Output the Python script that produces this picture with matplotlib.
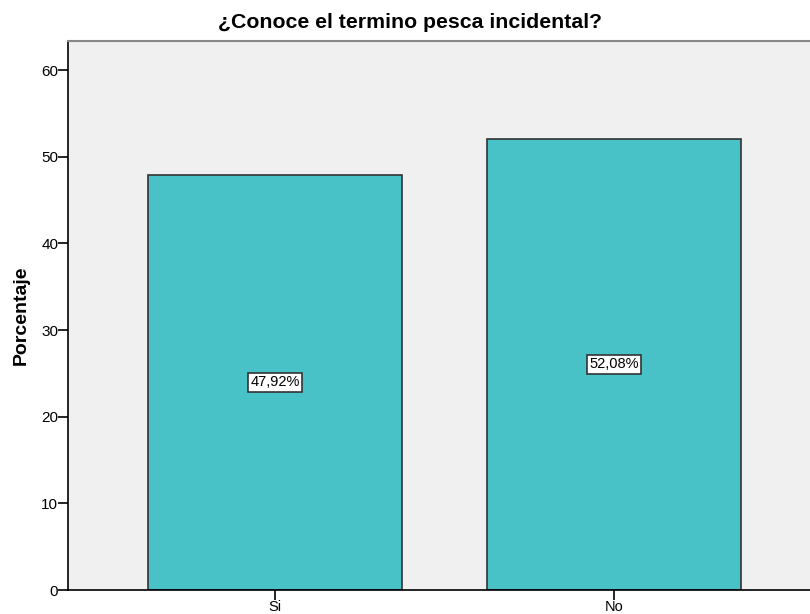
import matplotlib.pyplot as plt

categories = ["Si", "No"]
porcentaje = [47.92, 52.08]
etiquetas = ["47,92%", "52,08%"]

plt.rcParams['font.family'] = ['Liberation Sans', 'DejaVu Sans']

fig = plt.figure(figsize=(8.1, 6.14), dpi=100)
ax = fig.add_axes([68 / 810, 24 / 614, 753 / 810, 549 / 614])
ax.set_facecolor('#F0F0F0')

x = range(len(categories))
ax.bar(x, porcentaje, width=0.75, color='#48C2C6', edgecolor='#333333', linewidth=1.2)

for i, v in enumerate(porcentaje):
    ax.text(i, v / 2, etiquetas[i], ha='center', va='center', fontsize=10.5,
            bbox=dict(boxstyle='square,pad=0.15', facecolor='white', edgecolor='#333333', linewidth=1.2))

ax.set_xlim(-0.611, 1.611)
ax.set_ylim(0, 63.35)
ax.set_xticks(list(x))
ax.set_xticklabels(categories, fontsize=10.5)
ax.set_yticks([0, 10, 20, 30, 40, 50, 60])
ax.tick_params(axis='y', labelsize=11, length=7, width=1.2, pad=0)
ax.tick_params(axis='x', length=7, width=1.2, pad=0)

ax.spines['right'].set_visible(False)
ax.spines['top'].set_color('#888888')
ax.spines['top'].set_linewidth(1.5)
ax.spines['left'].set_linewidth(1.2)
ax.spines['bottom'].set_linewidth(1.2)

ax.set_ylabel("Porcentaje", fontsize=14, fontweight='bold', labelpad=8)
fig.text(410 / 810, 1 - 23 / 614, "¿Conoce el termino pesca incidental?", fontsize=15.3,
         fontweight='bold', ha='center', va='center')

fig.savefig("out.png")
